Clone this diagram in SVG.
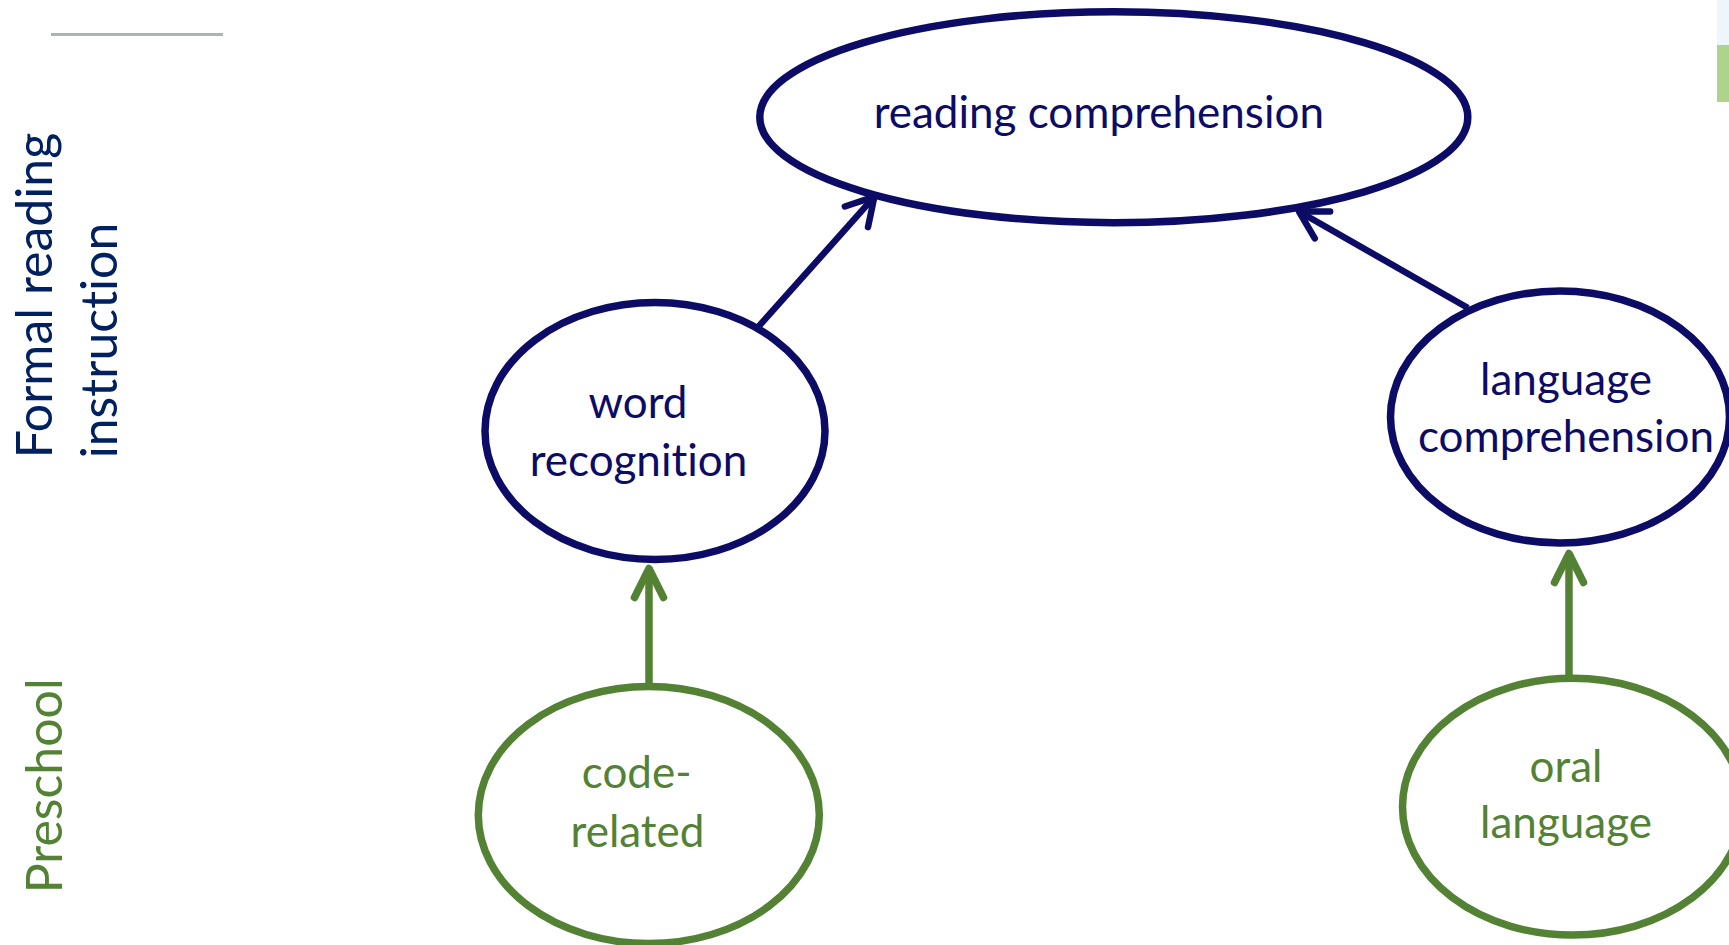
<svg xmlns="http://www.w3.org/2000/svg" width="1729" height="945" viewBox="0 0 1729 945">
<style>
.navy{fill:#fff;stroke:#0c0c66;stroke-width:7.5}
.grn{fill:#fff;stroke:#548235;stroke-width:7.5}
.tn{font-family:Lato,"Liberation Sans",sans-serif;font-size:44px;fill:#0c0c66;text-anchor:middle;font-variant-ligatures:none}
.tg{font-family:Lato,"Liberation Sans",sans-serif;font-size:44px;fill:#548235;text-anchor:middle;font-variant-ligatures:none}
.lab{font-family:Lato,"Liberation Sans",sans-serif;font-size:50px;font-variant-ligatures:none}
.cn{fill:none;stroke:#0c0c66;stroke-width:6.5}
.cg{fill:none;stroke:#548235;stroke-width:7.5}
</style>
<defs>
<marker id="ahn" markerUnits="userSpaceOnUse" viewBox="-40 -25 50 50" refX="0" refY="0" markerWidth="50" markerHeight="50" orient="auto">
<path d="M-27,-15.5 L0,0 L-27,15.5" fill="none" stroke="#0c0c66" stroke-width="6.5" stroke-linecap="round" stroke-linejoin="round"/>
</marker>
<marker id="ahg" markerUnits="userSpaceOnUse" viewBox="-40 -25 50 50" refX="0" refY="0" markerWidth="50" markerHeight="50" orient="auto">
<path d="M-29,-14.5 L0,0 L-29,14.5" fill="none" stroke="#548235" stroke-width="7.5" stroke-linecap="round" stroke-linejoin="round"/>
</marker>
</defs>
<rect x="0" y="0" width="1729" height="945" fill="#fff"/>
<line x1="51" y1="34.5" x2="223" y2="34.5" stroke="#aeb3b6" stroke-width="3"/>
<rect x="1717" y="0" width="12" height="45" fill="#eef6fc"/>
<rect x="1717" y="45" width="12" height="57" fill="#add48a"/>
<g id="labels">
<text class="lab" fill="#002060" transform="translate(51.7,458.3) rotate(-90)">Formal reading</text>
<text class="lab" fill="#002060" transform="translate(116.7,458.3) rotate(-90)">instruction</text>
<text class="lab" fill="#548235" transform="translate(61.7,893.3) rotate(-90)">Preschool</text>
</g>
<g id="connectors">
<line class="cn" x1="758.7" y1="326.4" x2="874.4" y2="196.7" marker-end="url(#ahn)"/>
<line class="cn" x1="1468" y1="308" x2="1299" y2="211.5" marker-end="url(#ahn)"/>
<line class="cg" x1="649" y1="686" x2="649" y2="568.5" marker-end="url(#ahg)"/>
<line class="cg" x1="1569" y1="678" x2="1569" y2="553.5" marker-end="url(#ahg)"/>
</g>
<g id="reading-comprehension">
<ellipse class="navy" cx="1113.8" cy="117.2" rx="354" ry="105.5"/>
<text class="tn" x="1098.8" y="128.3">reading comprehension</text>
</g>
<g id="word-recognition">
<ellipse class="navy" cx="655" cy="431" rx="170" ry="128.5"/>
<text class="tn" x="638" y="418.3">word</text>
<text class="tn" x="638.5" y="476">recognition</text>
</g>
<g id="language-comprehension">
<ellipse class="navy" cx="1560" cy="417" rx="169.5" ry="126"/>
<text class="tn" x="1566" y="394.6">language</text>
<text class="tn" x="1566" y="451.8">comprehension</text>
</g>
<g id="code-related">
<ellipse class="grn" cx="648.8" cy="815" rx="170.5" ry="128.5"/>
<text class="tg" x="636.7" y="788.3">code-</text>
<text class="tg" x="637.5" y="846.7">related</text>
</g>
<g id="oral-language">
<ellipse class="grn" cx="1572.5" cy="806.7" rx="170" ry="128.4"/>
<text class="tg" x="1566" y="781.7">oral</text>
<text class="tg" x="1566" y="838.3">language</text>
</g>
</svg>
